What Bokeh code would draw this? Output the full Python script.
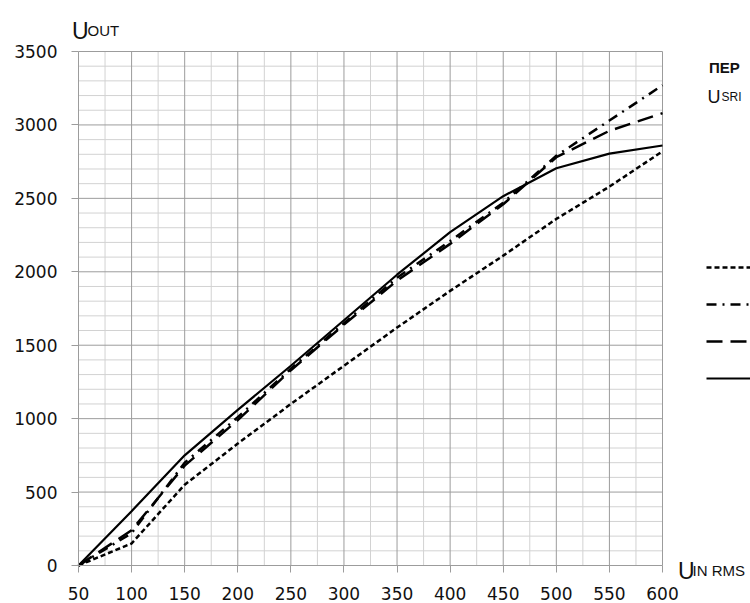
from bokeh.plotting import figure
from bokeh.models import Range1d, FixedTicker, Label, Legend, LegendItem
from bokeh.core.properties import value
from bokeh.embed import file_html
from bokeh.resources import INLINE

# ---- data ----
u_in = [50, 100, 150, 200, 250, 300, 350, 400, 450, 500, 550, 600]
curve_short_dash = [0, 150, 550, 830, 1100, 1360, 1620, 1870, 2110, 2360, 2580, 2820]
curve_dash_dot = [0, 220, 700, 1010, 1340, 1650, 1960, 2210, 2470, 2790, 3030, 3270]
curve_long_dash = [0, 240, 680, 990, 1330, 1640, 1940, 2190, 2460, 2780, 2960, 3080]
curve_solid = [0, 370, 750, 1060, 1360, 1670, 1980, 2270, 2515, 2705, 2805, 2860]

x_ticks = [50, 100, 150, 200, 250, 300, 350, 400, 450, 500, 550, 600]
x_minor = [75, 125, 175, 225, 275, 325, 375, 425, 475, 525, 575]
y_ticks = [0, 500, 1000, 1500, 2000, 2500, 3000, 3500]
y_minor = [v for v in range(0, 3501, 100) if v % 500 != 0]

legend_title = "ПЕР"
legend_sub_main = "U"
legend_sub_index = "SRI"
y_title_main, y_title_index = "U", "OUT"
x_title_main, x_title_index = "U", "IN RMS"

# ---- layout: frame covers the whole canvas, axes are pinned inside it ----
W, H = 750, 603
FX0, FX1 = 78, 662      # pixel positions of x = 50 and x = 600
FY0, FY1 = 565, 51      # pixel positions of y = 0 and y = 3500
kx = (FX1 - FX0) / (x_ticks[-1] - x_ticks[0])
ky = (FY0 - FY1) / (y_ticks[-1] - y_ticks[0])
x_start = x_ticks[0] - FX0 / kx
x_end = x_ticks[0] + (W - FX0) / kx
y_end = y_ticks[0] + FY0 / ky
y_start = y_ticks[0] - (H - FY0) / ky

def px2x(px):
    return x_ticks[0] + (px - FX0) / kx

def py2y(py):
    return y_ticks[0] + (FY0 - py) / ky

p = figure(width=W, height=H, output_backend="svg", toolbar_location=None,
           x_range=Range1d(x_start, x_end), y_range=Range1d(y_start, y_end),
           min_border_left=0, min_border_top=0, min_border_right=0,
           min_border_bottom=0)
p.outline_line_color = None
p.background_fill_color = "white"
p.border_fill_color = "white"
p.xgrid.visible = False
p.ygrid.visible = False

MAJ = "#9c9c9c"
MIN = "#d2d2d2"
TICKF = "DejaVu Sans"
TXT = "#111111"

# grid lines (minor first, then major)
p.segment(x0=x_minor, y0=[y_ticks[0]] * len(x_minor), x1=x_minor, y1=[y_ticks[-1]] * len(x_minor),
          line_color=MIN, line_width=1)
p.segment(x0=[x_ticks[0]] * len(y_minor), y0=y_minor, x1=[x_ticks[-1]] * len(y_minor), y1=y_minor,
          line_color=MIN, line_width=1)
p.segment(x0=x_ticks[1:], y0=[y_ticks[0]] * (len(x_ticks) - 1), x1=x_ticks[1:],
          y1=[y_ticks[-1]] * (len(x_ticks) - 1), line_color=MAJ, line_width=1)
p.segment(x0=[x_ticks[0]] * (len(y_ticks) - 1), y0=y_ticks[1:], x1=[x_ticks[-1]] * (len(y_ticks) - 1),
          y1=y_ticks[1:], line_color=MAJ, line_width=1)

p.xaxis.ticker = FixedTicker(ticks=x_ticks, minor_ticks=x_minor)
p.yaxis.ticker = FixedTicker(ticks=y_ticks, minor_ticks=y_minor)
p.xaxis.fixed_location = y_ticks[0]
p.yaxis.fixed_location = x_ticks[0]
p.xaxis.bounds = (x_ticks[0], x_ticks[-1])
p.yaxis.bounds = (y_ticks[0], y_ticks[-1])
for ax in (p.xaxis, p.yaxis):
    ax.axis_line_color = MAJ
    ax.major_tick_line_color = MAJ
    ax.major_tick_out = 7
    ax.major_tick_in = 0
    ax.minor_tick_line_color = None
    ax.major_label_text_font = TICKF
    ax.major_label_text_font_size = "17px"
    ax.major_label_text_color = TXT
p.xaxis.major_label_standoff = 14
p.yaxis.major_label_standoff = 14

r1 = p.line(u_in, curve_short_dash, line_color="black", line_width=2.5, line_dash="5 3")
r2 = p.line(u_in, curve_dash_dot, line_color="black", line_width=2.5, line_dash="10 6 2 6")
r3 = p.line(u_in, curve_long_dash, line_color="black", line_width=2.5, line_dash="16 8")
r4 = p.line(u_in, curve_solid, line_color="black", line_width=2.2)

LF = "Liberation Sans"

def add_text(px, py, text, size, style="normal"):
    p.add_layout(Label(x=px2x(px), y=py2y(py), text=text, text_font=LF, text_font_size=size,
                       text_font_style=style, text_baseline="alphabetic", text_align="left",
                       text_color=TXT))

# axis titles (with subscripts)
add_text(71.5, 30, y_title_main, "23px")
add_text(87.0, 30, y_title_index, "15px")
add_text(677.5, 570, x_title_main, "23px")
add_text(692.0, 570, x_title_index, "15px")
# legend heading
add_text(708.5, 66.7, legend_title, "15px", "bold")
add_text(707, 96.7, legend_sub_main, "18px")
add_text(721, 96.7, legend_sub_index, "12px")

legend = Legend(items=[LegendItem(label=value(""), renderers=[r1]),
                       LegendItem(label=value(""), renderers=[r2]),
                       LegendItem(label=value(""), renderers=[r3]),
                       LegendItem(label=value(""), renderers=[r4])],
                location=(706, 215), padding=0, margin=0, spacing=17,
                glyph_width=50, glyph_height=20, label_height=20, label_standoff=0,
                label_width=0, border_line_color=None, background_fill_alpha=0,
                label_text_font=LF, label_text_font_size="15px")
p.add_layout(legend)

open("out.html", "w").write(file_html(p, INLINE))
